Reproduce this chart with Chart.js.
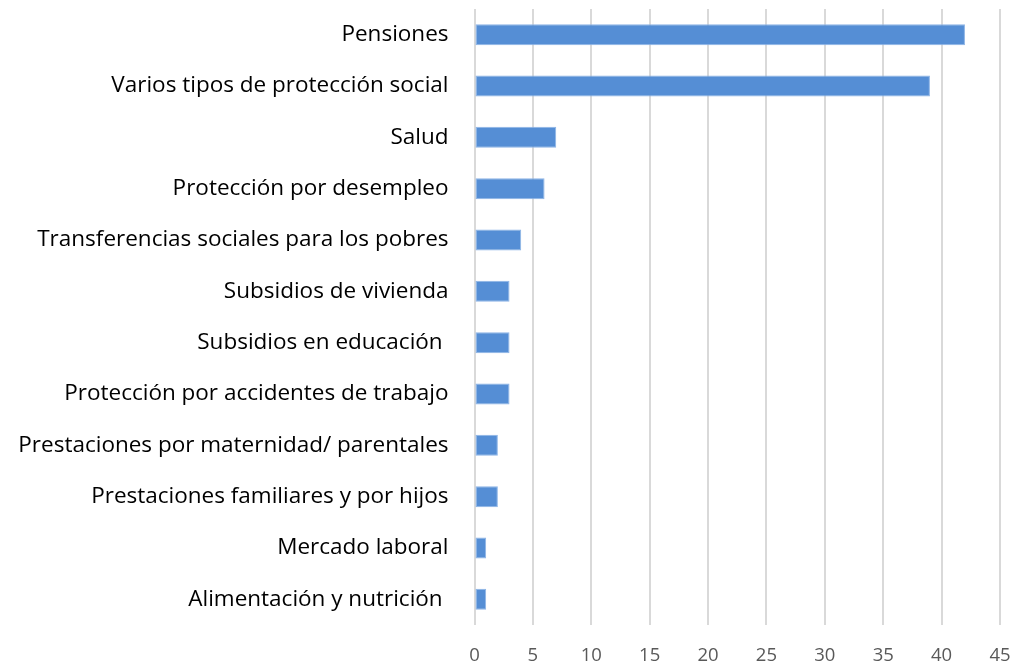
<!DOCTYPE html>
<html><head><meta charset="utf-8">
<script src="https://cdn.jsdelivr.net/npm/chart.js@4"></script>
<style>html,body{margin:0;padding:0;background:#fff;}#wrap{width:1012px;height:664px;}</style>
</head><body><div id="wrap"><canvas id="c" width="1012" height="664"></canvas></div>
<script>
const categories = [
  "Pensiones",
  "Varios tipos de protección social",
  "Salud",
  "Protección por desempleo",
  "Transferencias sociales para los pobres",
  "Subsidios de vivienda",
  "Subsidios en educación ",
  "Protección por accidentes de trabajo",
  "Prestaciones por maternidad/ parentales",
  "Prestaciones familiares y por hijos",
  "Mercado laboral",
  "Alimentación y nutrición "
];
const values = [42, 39, 7, 6, 4, 3, 3, 3, 2, 2, 1, 1];
const xTicks = [0, 5, 10, 15, 20, 25, 30, 35, 40, 45];

const AREA_LEFT = 474.5, AREA_BOTTOM = 625;
new Chart(document.getElementById('c'), {
  type: 'bar',
  data: { labels: categories, datasets: [{ data: values, backgroundColor: '#558ed5', borderColor: '#8db4e6', borderWidth: 1, borderSkipped: false, barPercentage: 0.41, categoryPercentage: 1 }] },
  options: {
    indexAxis: 'y', responsive: false, animation: false, devicePixelRatio: 1,
    layout: { padding: { top: 9, right: 12, left: 0, bottom: 0 } },
    plugins: { legend: { display: false }, tooltip: { enabled: false } },
    scales: {
      x: { min: 0, max: 45, afterBuildTicks: s => { s.ticks = xTicks.map(v => ({ value: v })); },
        grid: { color: '#d9d9d9', lineWidth: 2, drawTicks: true, tickLength: 21, tickColor: 'rgba(0,0,0,0)' }, border: { display: false },
        ticks: { padding: 0, color: '#595959', font: { family: 'Open Sans', size: 18.5, lineHeight: 1 } },
        afterFit: s => { s.height = 664 - AREA_BOTTOM; } },
      y: { grid: { display: false, drawTicks: true, tickLength: 26 }, border: { display: false },
        ticks: { padding: 0, color: '#000', font: { family: 'Open Sans', size: 22.5, lineHeight: 0.8 }, autoSkip: false },
        afterFit: s => { s.width = AREA_LEFT; } }
    }
  }
});
</script></body></html>
